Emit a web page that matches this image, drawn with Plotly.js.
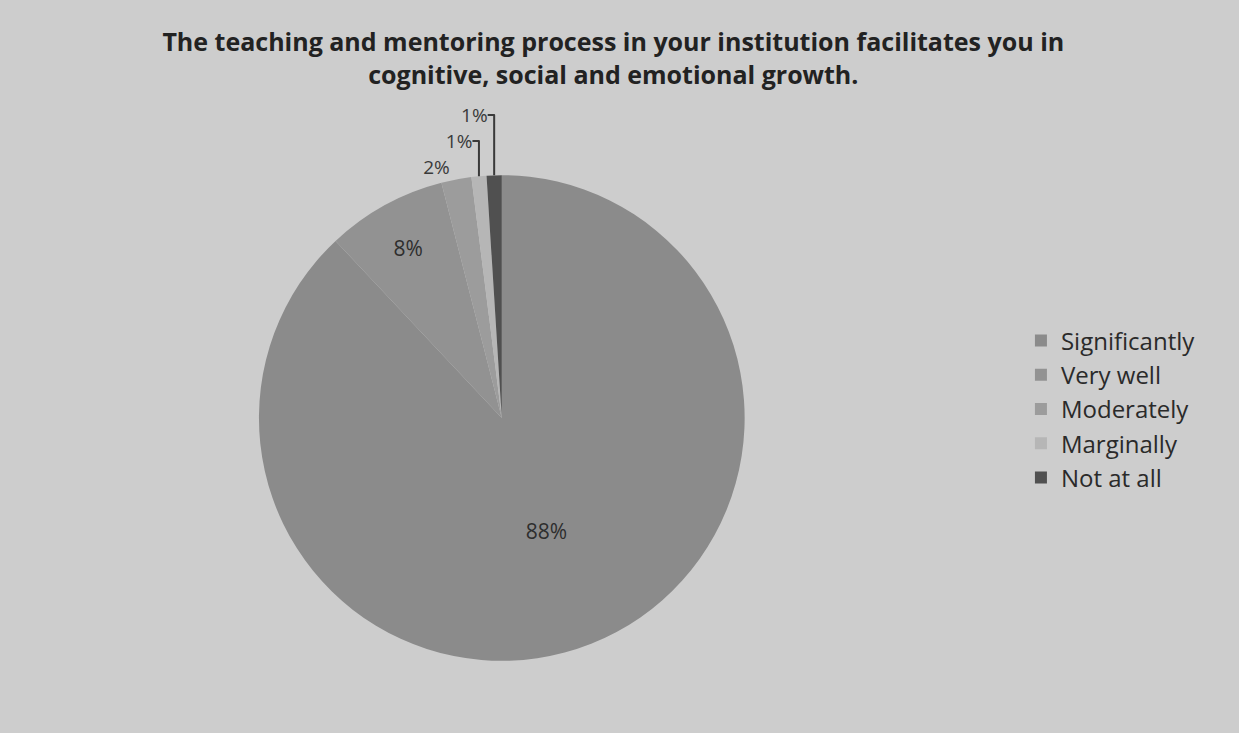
<!DOCTYPE html>
<html>
<head>
<meta charset="utf-8">
<script src="https://cdn.plot.ly/plotly-3.0.1.min.js"></script>
<style>html,body{margin:0;padding:0;background:#cdcdcd;}#chart{width:1239px;height:733px;}</style>
</head>
<body>
<div id="chart"></div>
<script>
const categories = ["Significantly", "Very well", "Moderately", "Marginally", "Not at all"];
const percentValues = [88, 8, 2, 1, 1];
const sliceColors = ["#8b8b8b", "#929292", "#9c9c9c", "#b6b6b6", "#505050"];
const titleText = "<b>The teaching and mentoring process in your institution facilitates you in<br>cognitive, social and emotional growth.</b>";

const trace = {
  type: "pie",
  labels: categories,
  values: percentValues,
  sort: false,
  direction: "clockwise",
  rotation: 0,
  marker: {colors: sliceColors, line: {width: 0}},
  textinfo: "percent",
  texttemplate: "%{percent:.0%}",
  textposition: ["inside", "inside", "outside", "outside", "outside"],
  insidetextorientation: "horizontal",
  insidetextfont: {family: "Open Sans, sans-serif", size: 21, color: "#2e2e2e"},
  outsidetextfont: {family: "Open Sans, sans-serif", size: 19, color: "#3a3a3a"},
  domain: {x: [0.2090, 0.6010], y: [0.0955, 0.764]},
  automargin: false,
  hoverinfo: "label+percent"
};

const layout = {
  width: 1239, height: 733,
  paper_bgcolor: "#cdcdcd",
  plot_bgcolor: "#cdcdcd",
  margin: {l: 0, r: 0, t: 0, b: 0},
  title: {
    text: titleText,
    x: 0.495, xanchor: "center",
    y: 0.93, yanchor: "top",
    font: {family: "Open Sans, sans-serif", size: 25, color: "#222222"}
  },
  showlegend: true,
  legend: {
    x: 0.824, xanchor: "left",
    y: 0.442, yanchor: "middle",
    font: {family: "Open Sans, sans-serif", size: 24, color: "#2a2a2a"},
    bgcolor: "rgba(0,0,0,0)",
    itemwidth: 30
  }
};

Plotly.newPlot("chart", [trace], layout, {displayModeBar: false, staticPlot: true});
</script>
</body>
</html>
